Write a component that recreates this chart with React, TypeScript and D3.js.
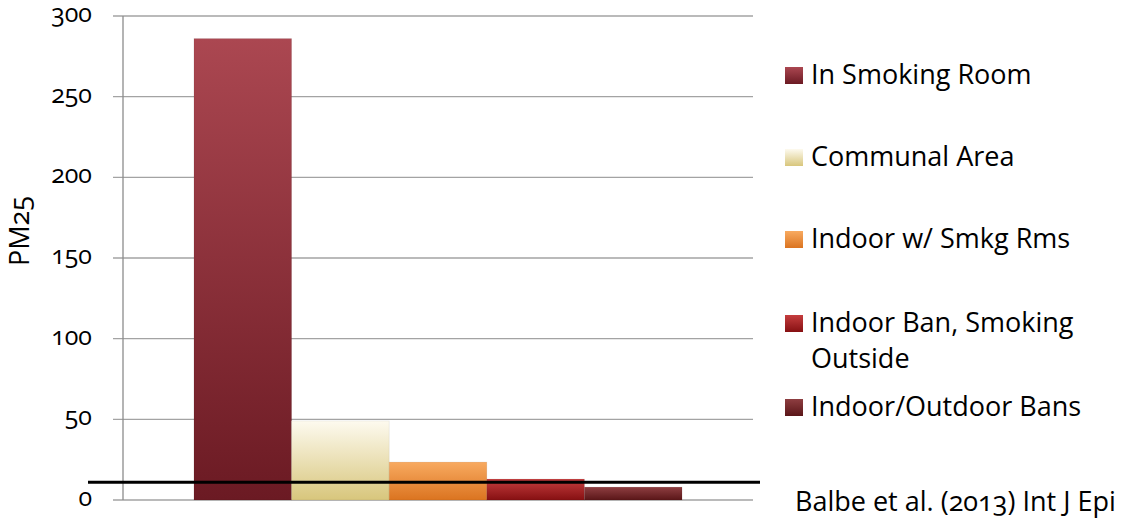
import React from "react";
import * as d3 from "d3";

// PM2.5 concentration by smoking-policy setting
const categories = [
  "In Smoking Room",
  "Communal Area",
  "Indoor w/ Smkg Rms",
  "Indoor Ban, Smoking Outside",
  "Indoor/Outdoor Bans",
];
const values = [286, 49, 23.5, 13, 8];
const legendLines = [
  ["In Smoking Room"],
  ["Communal Area"],
  ["Indoor w/ Smkg Rms"],
  ["Indoor Ban, Smoking", "Outside"],
  ["Indoor/Outdoor Bans"],
];
const yTicks = [0, 50, 100, 150, 200, 250, 300];
const referenceLevel = 11;
const yLabel = "PM25";
const citation = "Balbe et al. (2013) Int J Epi";

// top / bottom gradient stops per series
const gradients = [
  ["#ab4751", "#6b1a23"],
  ["#fdfaef", "#d8c67c"],
  ["#f8aa60", "#db7420"],
  ["#c53d3e", "#861012"],
  ["#8e3e41", "#5a1618"],
];

const W = 1131;
const H = 521;
const plot = { left: 123, right: 753, top: 16, bottom: 500 };
const font = "'Open Sans', sans-serif";
const numStyle: React.CSSProperties = {
  fontFeatureSettings: "'onum' 1",
  fontVariantNumeric: "oldstyle-nums",
};

export default function App() {
  const y = d3.scaleLinear().domain([0, 300]).range([plot.bottom, plot.top]);
  const x = d3
    .scaleBand<string>()
    .domain(categories)
    .range([plot.left, plot.right])
    .paddingInner(0)
    .paddingOuter(0.727);

  const legendBaselines = [84, 166, 248, 332, 416];
  const legendLineGap = 36;

  return (
    <svg
      width={W}
      height={H}
      style={{ position: "absolute", left: 0, top: 0, background: "#fff" }}
      fontFamily={font}
    >
      <defs>
        {gradients.map((g, i) => (
          <linearGradient key={i} id={`grad${i}`} x1="0" y1="0" x2="0" y2="1">
            <stop offset="0%" stopColor={g[0]} />
            <stop offset="100%" stopColor={g[1]} />
          </linearGradient>
        ))}
      </defs>

      {/* gridlines and tick marks */}
      {yTicks.map((t) => (
        <g key={t}>
          <line
            x1={plot.left - 10}
            x2={plot.right}
            y1={y(t)}
            y2={y(t)}
            stroke="#a3a3a3"
            strokeWidth={1.3}
          />
          <text
            x={92}
            y={y(t) + 6}
            textAnchor="end"
            fontSize={25}
            fill="#000"
            style={numStyle}
          >
            {t}
          </text>
        </g>
      ))}
      <line
        x1={plot.left}
        x2={plot.left}
        y1={y(300)}
        y2={y(0)}
        stroke="#8c8c8c"
        strokeWidth={1.3}
      />

      {/* bars */}
      {categories.map((c, i) => (
        <rect
          key={c}
          x={x(c)!}
          y={y(values[i])}
          width={x.bandwidth()}
          height={y(0) - y(values[i])}
          fill={`url(#grad${i})`}
          stroke="rgba(0,0,0,0.08)"
          strokeWidth={0.8}
        />
      ))}

      {/* reference level */}
      <line
        x1={88}
        x2={760}
        y1={y(referenceLevel)}
        y2={y(referenceLevel)}
        stroke="#000"
        strokeWidth={3}
      />

      {/* y-axis title */}
      <text
        transform={`translate(29, 231) rotate(-90)`}
        textAnchor="middle"
        fontSize={27}
        fill="#000"
        style={numStyle}
      >
        {yLabel}
      </text>

      {/* legend */}
      {legendLines.map((lines, i) => (
        <g key={i}>
          <rect
            x={785}
            y={legendBaselines[i] - 17}
            width={18}
            height={17}
            fill={`url(#grad${i})`}
          />
          {lines.map((ln, j) => (
            <text
              key={j}
              x={811}
              y={legendBaselines[i] + j * legendLineGap}
              fontSize={27}
              fill="#000"
            >
              {ln}
            </text>
          ))}
        </g>
      ))}

      <text x={795} y={511} fontSize={27} fill="#000" style={numStyle}>
        {citation}
      </text>
    </svg>
  );
}
